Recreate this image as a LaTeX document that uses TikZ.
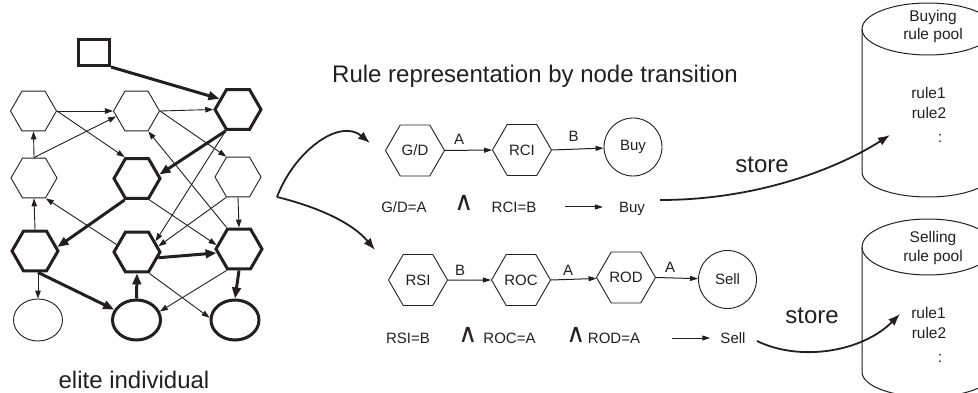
\documentclass[tikz,border=0pt]{standalone}
\usepackage{fontspec}
\setmainfont{Liberation Sans}
\newfontfamily\wedgefont{DejaVu Sans}
\usetikzlibrary{shapes.geometric,arrows.meta,calc}
\definecolor{ink}{RGB}{35,31,32}
\begin{document}
\begin{tikzpicture}[x=1pt,y=-1pt,
  every node/.style={inner sep=0pt, text=ink},
  hexn/.style={draw=ink, regular polygon, regular polygon sides=6, minimum size=46pt, line width=0.9pt},
  hexb/.style={hexn, line width=3pt},
  ovn/.style={draw=ink, ellipse, minimum width=49pt, minimum height=42pt, line width=0.9pt},
  ovb/.style={draw=ink, ellipse, minimum width=48pt, minimum height=40pt, line width=3pt},
  thinarr/.style={draw=ink, line width=0.9pt, -{Triangle[length=8pt,width=5.5pt]}},
  boldarr/.style={draw=ink, line width=3pt, -{Triangle[length=11pt,width=8.5pt]}},
  rulehex/.style={draw=ink, regular polygon, regular polygon sides=6, minimum size=59pt, line width=0.9pt, font=\fontsize{15}{15}\selectfont},
  rulecirc/.style={draw=ink, circle, minimum size=58pt, line width=0.9pt, font=\fontsize{15}{15}\selectfont},
  rulearr/.style={draw=ink, line width=1pt, -{Triangle[length=8pt,width=5pt]}},
  lbl/.style={font=\fontsize{15}{15}\selectfont},
  andsym/.style={font=\wedgefont\fontsize{26}{26}\selectfont},
  bigarr/.style={draw=ink, line width=1.8pt, -{Latex[length=12pt,width=9pt]}},
  bigtxt/.style={font=\fontsize{24}{24}\selectfont},
  pooltxt/.style={font=\fontsize{15.5}{15.5}\selectfont},
  cyl/.style={draw=ink, line width=1pt},
]
\useasboundingbox (0,0) rectangle (978,393);
\clip (0,0) rectangle (978,393);

% ---------- elite individual: node network ----------
\node[draw=ink, line width=3pt, minimum width=31pt, minimum height=26pt] (sq) at (94,52.5) {};

\node[hexn] (h11) at (33.5,111) {};
\node[hexn] (h12) at (136.5,111) {};
\node[hexb] (h13) at (238,109.5) {};
\node[hexn] (h21) at (34,178) {};
\node[hexb] (h22) at (137,178.5) {};
\node[hexn] (h23) at (238,177) {};
\node[hexb] (h31) at (35,251) {};
\node[hexb] (h32) at (137,252) {};
\node[hexb] (h33) at (239,249) {};
\node[ovn] (c1) at (38,320) {};
\node[ovb] (c2) at (136.5,320) {};
\node[ovb] (c3) at (235,320) {};

\draw[boldarr] (sq.south east) -- (h13.150);
\draw[thinarr] (h11.0) -- (h12.180);
\draw[thinarr] (h12.0) -- (h13.180);
\draw[thinarr] (h11.0) -- (h22.120);
\draw[thinarr] (h12.0) -- (h23.120);
\draw[thinarr] (h21.90) -- (h11.270);
\draw[thinarr] (h21.90) -- (h12.195);
\draw[thinarr] (h31.90) -- (h21.270);
\draw[boldarr] (h13.240) -- (h22.10);
\draw[thinarr] (h13.240) -- (h32.30);
\draw[boldarr] (h22.240) -- (h31.10);
\draw[thinarr] (h22.300) -- (h33.170);
\draw[thinarr] (h32.160) -- (h21.300);
\draw[thinarr] (h33.120) -- (h12.300);
\draw[thinarr] (h23.240) -- (h32.15);
\draw[thinarr] (h23.270) -- (h33.90);
\draw[boldarr] (h32.345) -- (h33.190);
\draw[boldarr] (h33.270) -- (c3.90);
\draw[thinarr] (h31.270 -| c1.north) -- (c1.north);
\draw[boldarr] (h31.270 -| c1.north) -- (c2.155);
\draw[boldarr] (c2.north) -- (h32.270);
\draw[thinarr] (h32.300) -- (c3.175);
\draw[thinarr] (h33.240) -- (c2.20);

\node[bigtxt, anchor=base] (elite) at (134,388) {elite individual};

% ---------- rules ----------
\node[bigtxt, anchor=base] (title) at (535,83) {Rule representation by node transition};

% buying rule
\node[rulehex] (gd) at (415,150.5) {G/D};
\node[rulehex] (rci) at (522,150) {RCI};
\node[rulecirc] (buy) at (633,147) {Buy};
\draw[rulearr] (gd) -- (rci);
\draw[rulearr] (rci.0) -- (buy);
\node[lbl] (la1) at (459,139) {A};
\node[lbl] (lb1) at (573.5,136.5) {B};

\node[lbl, anchor=base] (r1a) at (404,212) {G/D=A};
\node[andsym, anchor=base] (r1w) at (464,211) {∧};
\node[lbl, anchor=base] (r1b) at (514,212) {RCI=B};
\node[lbl, anchor=base] (r1c) at (632,212) {Buy};
\draw[rulearr] ($(r1b.base east)+(28,-5)$) -- ($(r1c.base west)+(-16,-5)$);

% selling rule
\node[rulehex] (rsi) at (418,280) {RSI};
\node[rulehex] (roc) at (521,280) {ROC};
\node[rulehex] (rod) at (626,277.5) {ROD};
\node[rulecirc] (sell) at (727.5,279.5) {Sell};
\draw[rulearr] (rsi) -- (roc);
\draw[rulearr] (roc.0) -- (rod);
\draw[rulearr] (rod.0) -- (sell);
\node[lbl] (lb2) at (460,270) {B};
\node[lbl] (la2) at (568,270) {A};
\node[lbl] (la3) at (670,267) {A};

\node[lbl, anchor=base] (r2a) at (408,343) {RSI=B};
\node[andsym, anchor=base] (r2w1) at (468,342) {∧};
\node[lbl, anchor=base] (r2b) at (509.5,343) {ROC=A};
\node[andsym, anchor=base] (r2w2) at (576,342) {∧};
\node[lbl, anchor=base] (r2c) at (614,343) {ROD=A};
\node[lbl, anchor=base] (r2d) at (733,343) {Sell};
\draw[rulearr] ($(r2c.base east)+(32,-5)$) -- ($(r2d.base west)+(-10,-5)$);

% branching arrows from the individual to the two rules
\coordinate (split) at (277,197);
\coordinate (tipA) at (370,143);
\coordinate (tipB) at (375,250);
\draw[bigarr] (split) .. controls (295,150) and (340,118) .. (tipA);
\draw[bigarr] (split) .. controls (310,205) and (350,220) .. (tipB);

% ---------- rule pools ----------
\draw[cyl] (928,29) ellipse [x radius=66pt, y radius=26pt];
\draw[cyl] (862,29) -- (862,172) arc[start angle=180, end angle=360, x radius=66pt, y radius=25pt] -- (994,29);
\node[pooltxt, anchor=base] (bp1) at (933,22) {Buying};
\node[pooltxt, anchor=base] (bp2) at (933,40) {rule pool};
\node[pooltxt, anchor=base] (bq1) at (928.5,99) {rule1};
\node[pooltxt, anchor=base] (bq2) at (929,119) {rule2};
\node[pooltxt, anchor=base] (bq3) at (940,143) {:};

\draw[cyl] (928,247) ellipse [x radius=66pt, y radius=28pt];
\draw[cyl] (862,247) -- (862,372) arc[start angle=180, end angle=360, x radius=66pt, y radius=25pt] -- (994,247);
\node[pooltxt, anchor=base] (sp1) at (933,243) {Selling};
\node[pooltxt, anchor=base] (sp2) at (933,261) {rule pool};
\node[pooltxt, anchor=base] (sq1) at (928.5,318) {rule1};
\node[pooltxt, anchor=base] (sq2) at (929,338) {rule2};
\node[pooltxt, anchor=base] (sq3) at (940,362) {:};

% store arrows
\coordinate (s1) at (660,200);
\coordinate (p1) at (890,135);
\draw[bigarr] (s1) .. controls (760,200) and (840,167) .. (p1);
\node[bigtxt, anchor=base] (st1) at (762,173) {store};
\coordinate (s2) at (757,341);
\coordinate (p2) at (900,314);
\draw[bigarr] (s2) .. controls (800,362) and (862,352) .. (p2);
\node[bigtxt, anchor=base] (st2) at (812,323) {store};
\end{tikzpicture}
\end{document}
